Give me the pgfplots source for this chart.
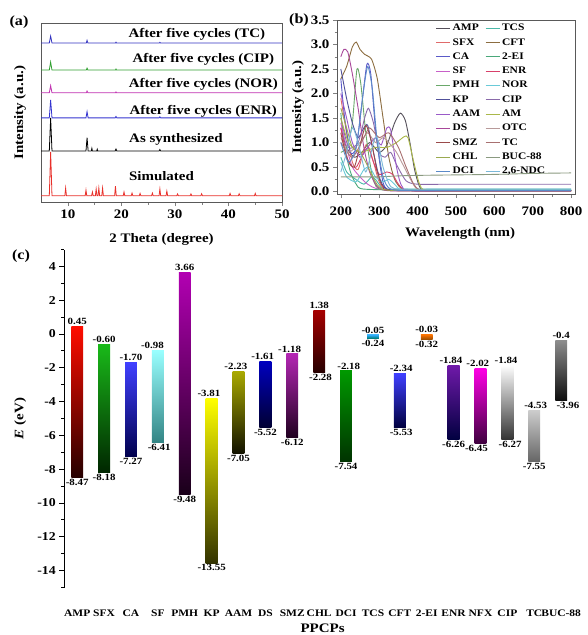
\documentclass[border=0pt]{standalone}
\usepackage{fontspec}
\setmainfont{Liberation Serif}[FakeStretch=1.15]
\usepackage{pgfplots}
\pgfplotsset{compat=1.18}
\newcommand\fs[1]{\fontsize{#1}{#1}\selectfont\bfseries}
% colours panel (b)
\definecolor{cAMP}{HTML}{55505A}\definecolor{cSFX}{HTML}{E06A6A}\definecolor{cCA}{HTML}{5A5AC8}
\definecolor{cSF}{HTML}{C860C8}\definecolor{cPMH}{HTML}{6AA86A}\definecolor{cKP}{HTML}{50509A}
\definecolor{cAAM}{HTML}{9A5AC8}\definecolor{cDS}{HTML}{A8489A}\definecolor{cSMZ}{HTML}{9A4A4A}
\definecolor{cCHL}{HTML}{9AAA50}\definecolor{cDCI}{HTML}{5A8AC8}\definecolor{cTCS}{HTML}{4AB8A8}
\definecolor{cCFT}{HTML}{8C6D40}\definecolor{cEI}{HTML}{4AA87A}\definecolor{cENR}{HTML}{D8406A}
\definecolor{cNOR}{HTML}{6ACAD8}\definecolor{cCIP}{HTML}{8A6AAA}\definecolor{cAM}{HTML}{AAB84A}
\definecolor{cOTC}{HTML}{B89A9A}\definecolor{cTC}{HTML}{A87070}\definecolor{cBUC}{HTML}{8A9A80}
\definecolor{cNDC}{HTML}{7AB8D8}
% colours panel (a)
\definecolor{xSim}{HTML}{E8302A}\definecolor{xENR}{HTML}{3434D0}\definecolor{xNOR}{HTML}{C030B0}
\definecolor{xCIP}{HTML}{30A030}\definecolor{xTC}{HTML}{3434C0}
\begin{document}
\begin{tikzpicture}
\useasboundingbox (0pt,0pt) rectangle (588pt,-635pt);
\pgfplotsset{
  every tick label/.append style={font=\fs{13}},
  /pgf/number format/assume math mode=true,
  every axis label/.append style={font=\fs{13}},
}
\node[font=\fs{14}] at (19pt,-22pt) {(a)};
\node[font=\fs{14}] at (299pt,-20pt) {(b)};
\node[font=\fs{14}] at (21pt,-256pt) {(c)};
% ---------------- (a) ----------------
\begin{axis}[at={(41pt,-23pt)}, anchor=north west, scale only axis,
  width=241pt, height=179pt, xmin=5, xmax=50, ymin=0, ymax=100,
  xtick={10,20,...,50}, minor x tick num=1, ytick=\empty,
  xtick pos=bottom, tick align=outside, major tick length=4pt, minor tick length=2.5pt,
  axis line style={black!65, line width=0.9pt},
  xlabel={2 Theta (degree)}, ylabel={Intensity (a.u.)},
  every axis x label/.style={at={(axis description cs:0.5,-0.21)}, anchor=center},
  every axis y label/.style={at={(axis description cs:-0.087,0.5)}, rotate=90, anchor=center},
  clip=false]
\addplot[xSim, line width=0.8pt] coordinates {(5,3.5)(6.55,3.5)(6.8,28)(7.05,3.5)(9.45,3.5)(9.6,7.8)(9.75,3.5)(13.25,3.5)(13.4,6.7)(13.55,3.5)(14.45,3.5)(14.6,5.6)(14.75,3.5)(15.15,3.5)(15.3,7.3)(15.45,3.5)(15.65,3.5)(15.8,7.8)(15.95,3.5)(16.35,3.5)(16.5,7.8)(16.65,3.5)(18.75,3.5)(18.9,8.9)(19.05,3.5)(20.35,3.5)(20.5,5.6)(20.65,3.5)(21.85,3.5)(22,5)(22.15,3.5)(23.35,3.5)(23.5,4.8)(23.65,3.5)(25.65,3.5)(25.8,5)(25.95,3.5)(27.05,3.5)(27.2,7.3)(27.35,3.5)(28.35,3.5)(28.5,6.1)(28.65,3.5)(30.35,3.5)(30.5,4.5)(30.65,3.5)(32.85,3.5)(33,4.5)(33.15,3.5)(34.85,3.5)(35,4.6)(35.15,3.5)(40.15,3.5)(40.3,4.8)(40.45,3.5)(41.85,3.5)(42,4.6)(42.15,3.5)(44.85,3.5)(45,4.8)(45.15,3.5)(50,3.5)};
\addplot[black, line width=0.8pt] coordinates {(5,28.5)(6.55,28.5)(6.8,47)(7.05,28.5)(13.4,28.5)(13.6,36)(13.8,28.5)(14.4,28.5)(14.5,30)(14.6,28.5)(15.4,28.5)(15.5,29.5)(15.6,28.5)(18.85,28.5)(19,29.6)(19.15,28.5)(27.05,28.5)(27.2,29.3)(27.35,28.5)(50,28.5)};
\addplot[xENR, line width=0.8pt] coordinates {(5,47)(6.55,47)(6.8,57)(7.05,47)(13.4,47)(13.6,50.5)(13.8,47)(18.85,47)(19,47.8)(19.15,47)(27.05,47)(27.2,47.6)(27.35,47)(50,47)};
\addplot[xNOR, line width=0.8pt] coordinates {(5,61)(6.55,61)(6.8,65)(7.05,61)(13.45,61)(13.6,62)(13.75,61)(18.9,61)(19,61.5)(19.1,61)(50,61)};
\addplot[xCIP, line width=0.8pt] coordinates {(5,73.7)(6.55,73.7)(6.8,78.2)(7.05,73.7)(13.45,73.7)(13.6,74.8)(13.75,73.7)(18.9,73.7)(19,74.3)(19.1,73.7)(50,73.7)};
\addplot[xTC, line width=0.8pt] coordinates {(5,88.8)(6.55,88.8)(6.8,92.7)(7.05,88.8)(13.45,88.8)(13.6,90.3)(13.75,88.8)(18.9,88.8)(19,89.3)(19.1,88.8)(27.1,88.8)(27.2,89.2)(27.3,88.8)(50,88.8)};
\node[font=\fs{13}] at (axis cs:34.1,93.5) {After five cycles (TC)};
\node[font=\fs{13}] at (axis cs:35.3,79.5) {After five cycles (CIP)};
\node[font=\fs{13}] at (axis cs:35.3,65.5) {After five cycles (NOR)};
\node[font=\fs{13}] at (axis cs:35.3,50.6) {After five cycles (ENR)};
\node[font=\fs{13}] at (axis cs:30.2,34.8) {As synthesized};
\node[font=\fs{13}] at (axis cs:27.5,14.3) {Simulated};
\end{axis}
% ---------------- (b) ----------------
\begin{axis}[at={(337pt,-20pt)}, anchor=north west, scale only axis,
  width=238pt, height=174pt, xmin=190, xmax=810, ymin=-0.05, ymax=3.5,
  xtick={200,300,...,800}, minor x tick num=1,
  ytick={0,0.5,...,3.5}, minor y tick num=1,
  xtick pos=bottom, ytick pos=left, tick align=outside, major tick length=4pt, minor tick length=2.5pt,
  yticklabel style={/pgf/number format/.cd, fixed, fixed zerofill, precision=1},
  xticklabel style={yshift=-5pt},
  axis line style={black!65, line width=0.9pt},
  xlabel={Wavelength (nm)}, ylabel={Intensity (a.u.)},
  every axis x label/.style={at={(axis description cs:0.517,-0.224)}, anchor=center},
  every axis y label/.style={at={(axis description cs:-0.164,0.5)}, rotate=90, anchor=center},
  legend columns=2,
  legend style={at={(0.41,0.995)}, anchor=north west, draw=none, fill=none,
    font=\fs{10}, row sep=2.2pt, inner sep=1pt,
    /tikz/every even column/.append style={column sep=3pt}},
  legend cell align=left,
  legend image code/.code={\draw[#1] (0pt,0pt) -- (14pt,0pt);},
  every axis plot/.append style={line width=0.9pt, smooth, tension=0.4}]
\addplot[cAMP] coordinates {(200,1.3)(215,0.9)(235,0.7)(255,0.8)(275,1.0)(300,0.8)(320,0.95)(340,1.4)(355,1.6)(368,1.45)(380,1.0)(392,0.45)(405,0.1)(420,0.02)(500,0.02)(800,0.02)};
\addlegendentry{AMP}
\addplot[cTCS] coordinates {(200,0.7)(215,0.4)(230,0.3)(260,0.15)(280,0.3)(290,0.25)(310,0.06)(340,0.05)(500,0.05)(800,0.05)};
\addlegendentry{TCS}
\addplot[cSFX] coordinates {(200,1.9)(215,1.2)(230,0.6)(245,0.45)(262,0.9)(270,0.95)(285,0.6)(300,0.2)(320,0.03)(400,0.02)(800,0.02)};
\addlegendentry{SFX}
\addplot[cCFT] coordinates {(200,2.3)(215,2.55)(230,2.95)(240,3.05)(250,2.9)(262,2.8)(280,2.7)(295,2.3)(310,1.5)(325,0.7)(340,0.25)(360,0.05)(400,0.02)(800,0.02)};
\addlegendentry{CFT}
\addplot[cCA] coordinates {(200,2.3)(210,1.5)(225,0.8)(240,0.9)(255,1.8)(268,2.6)(278,2.4)(290,1.3)(305,0.4)(320,0.05)(400,0.02)(800,0.02)};
\addlegendentry{CA}
\addplot[cEI] coordinates {(200,1.6)(210,0.9)(225,0.4)(240,0.15)(260,0.05)(400,0.03)(800,0.03)};
\addlegendentry{2-EI}
\addplot[cSF] coordinates {(200,1.4)(215,0.9)(230,0.5)(250,0.3)(270,0.15)(300,0.05)(400,0.02)(800,0.02)};
\addlegendentry{SF}
\addplot[cENR] coordinates {(200,1.3)(220,0.6)(240,0.5)(260,0.8)(272,0.9)(285,0.6)(300,0.35)(320,0.4)(335,0.35)(350,0.15)(370,0.03)(450,0.02)(800,0.02)};
\addlegendentry{ENR}
\addplot[cPMH] coordinates {(200,0.8)(215,0.9)(230,1.4)(242,2.5)(252,2.2)(265,1.2)(280,0.4)(300,0.05)(400,0.03)(800,0.03)};
\addlegendentry{PMH}
\addplot[cNOR] coordinates {(200,0.6)(215,0.3)(240,0.2)(260,0.45)(275,0.5)(290,0.3)(310,0.2)(325,0.25)(340,0.15)(360,0.03)(450,0.03)(800,0.03)};
\addlegendentry{NOR}
\addplot[cKP] coordinates {(200,2.5)(215,1.9)(230,1.4)(245,1.1)(260,1.3)(270,1.35)(285,0.8)(300,0.3)(320,0.05)(400,0.02)(800,0.02)};
\addlegendentry{KP}
\addplot[cCIP] coordinates {(200,1.5)(220,0.9)(245,1.0)(262,1.5)(272,1.7)(285,1.4)(300,0.8)(315,0.7)(330,0.8)(345,0.55)(370,0.22)(400,0.15)(500,0.15)(800,0.15)};
\addlegendentry{CIP}
\addplot[cAAM] coordinates {(200,2.0)(215,1.5)(230,1.0)(250,0.7)(270,0.9)(290,1.1)(305,0.95)(320,1.3)(330,1.25)(345,0.5)(360,0.1)(400,0.02)(800,0.02)};
\addlegendentry{AAM}
\addplot[cAM] coordinates {(200,1.5)(220,1.0)(250,0.8)(290,0.9)(320,0.9)(345,1.0)(365,1.12)(375,1.1)(390,0.6)(405,0.15)(420,0.03)(500,0.02)(800,0.02)};
\addlegendentry{AM}
\addplot[cDS] coordinates {(200,2.75)(208,2.9)(218,2.85)(230,2.4)(245,1.7)(260,0.9)(275,0.4)(295,0.1)(320,0.02)(400,0.01)(800,0.01)};
\addlegendentry{DS}
\addplot[cOTC] coordinates {(200,1.1)(220,0.8)(250,1.0)(270,1.2)(290,1.0)(310,1.1)(325,1.0)(345,0.8)(365,0.5)(385,0.2)(400,0.05)(450,0.02)(800,0.02)};
\addlegendentry{OTC}
\addplot[cSMZ] coordinates {(200,1.2)(215,0.7)(235,0.5)(255,1.1)(266,1.35)(280,1.0)(295,0.4)(310,0.1)(350,0.02)(800,0.02)};
\addlegendentry{SMZ}
\addplot[cTC] coordinates {(200,1.0)(230,0.7)(260,1.1)(275,1.3)(300,1.1)(325,1.2)(350,0.9)(370,0.5)(390,0.15)(410,0.03)(500,0.02)(800,0.02)};
\addlegendentry{TC}
\addplot[cCHL] coordinates {(200,1.7)(215,1.3)(230,0.9)(250,0.8)(265,0.6)(280,0.35)(300,0.1)(350,0.02)(800,0.02)};
\addlegendentry{CHL}
\addplot[cBUC] coordinates {(200,0.3)(250,0.3)(300,0.3)(350,0.32)(400,0.33)(500,0.34)(600,0.35)(700,0.37)(800,0.38)};
\addlegendentry{BUC-88}
\addplot[cDCI] coordinates {(200,1.0)(220,0.6)(240,0.9)(258,2.0)(270,2.55)(282,2.1)(295,1.0)(310,0.3)(330,0.05)(400,0.02)(800,0.02)};
\addlegendentry{DCI}
\addplot[cNDC] coordinates {(200,0.4)(215,0.8)(230,1.3)(245,1.0)(265,0.4)(285,1.0)(295,1.1)(310,0.5)(330,0.1)(360,0.05)(500,0.05)(800,0.05)};
\addlegendentry{2,6-NDC}
\end{axis}
% ---------------- (c) ----------------
\begin{axis}[at={(64.3pt,-249.5pt)}, anchor=north west, scale only axis,
  width=513pt, height=338pt, xmin=-0.48, xmax=18.6, ymin=-15, ymax=5,
  axis y line*=left, axis x line*=bottom,
  x axis line style={draw=none}, y axis line style={-, black, line width=1pt},
  xtick={0,...,18},
  xticklabels={AMP,SFX,CA,SF,PMH,KP,AAM,DS,SMZ,CHL,DCI,TCS,CFT,2-EI,ENR,NFX,CIP,TC,BUC-88},
  xtick style={draw=none},
  xticklabel style={font=\fs{10}, yshift=-14pt},
  ytick={-14,-12,...,4}, minor ytick={-15,-13,...,5},
  yticklabel style={font=\fs{12}},
  tick align=outside, major tick length=5pt, minor tick length=3pt,
  ytick style={line width=1pt, black},
  xlabel={PPCPs}, ylabel={\textit{E} (eV)},
  every axis x label/.style={at={(axis description cs:0.5035,-0.12)}, anchor=center},
  every axis y label/.style={at={(axis description cs:-0.086,0.5)}, rotate=90, anchor=center},
  clip=false]
\addplot[draw=none, top color=red!90!orange, bottom color=black!85!red] coordinates {(-0.22,-8.47)(0.22,-8.47)(0.22,0.45)(-0.22,0.45)} -- cycle;
\addplot[draw=none, top color=green!70!black!90, bottom color=black!85!green] coordinates {(0.78,-8.18)(1.22,-8.18)(1.22,-0.60)(0.78,-0.60)} -- cycle;
\addplot[draw=none, top color=blue!75, bottom color=blue!30!black] coordinates {(1.78,-7.27)(2.22,-7.27)(2.22,-1.70)(1.78,-1.70)} -- cycle;
\addplot[draw=none, top color=cyan!40, bottom color=cyan!40!black!80] coordinates {(2.78,-6.41)(3.22,-6.41)(3.22,-0.98)(2.78,-0.98)} -- cycle;
\addplot[draw=none, top color=violet!60!magenta, bottom color=violet!20!black] coordinates {(3.78,-9.48)(4.22,-9.48)(4.22,3.66)(3.78,3.66)} -- cycle;
\addplot[draw=none, top color=yellow, bottom color=yellow!20!black] coordinates {(4.78,-13.55)(5.22,-13.55)(5.22,-3.81)(4.78,-3.81)} -- cycle;
\addplot[draw=none, top color=olive!85!yellow!80, bottom color=olive!15!black] coordinates {(5.78,-7.05)(6.22,-7.05)(6.22,-2.23)(5.78,-2.23)} -- cycle;
\addplot[draw=none, top color=blue!75!black, bottom color=blue!20!black] coordinates {(6.78,-5.52)(7.22,-5.52)(7.22,-1.61)(6.78,-1.61)} -- cycle;
\addplot[draw=none, top color=violet!70!magenta!85, bottom color=violet!25!black] coordinates {(7.78,-6.12)(8.22,-6.12)(8.22,-1.18)(7.78,-1.18)} -- cycle;
\addplot[draw=none, top color=red!65!black, bottom color=red!15!black] coordinates {(8.78,-2.28)(9.22,-2.28)(9.22,1.38)(8.78,1.38)} -- cycle;
\addplot[draw=none, top color=green!60!black, bottom color=green!20!black] coordinates {(9.78,-7.54)(10.22,-7.54)(10.22,-2.18)(9.78,-2.18)} -- cycle;
\addplot[draw=none, top color=cyan!60!blue!80, bottom color=cyan!50!black] coordinates {(10.78,-0.24)(11.22,-0.24)(11.22,-0.05)(10.78,-0.05)} -- cycle;
\addplot[draw=none, top color=blue!75, bottom color=blue!25!black] coordinates {(11.78,-5.53)(12.22,-5.53)(12.22,-2.34)(11.78,-2.34)} -- cycle;
\addplot[draw=none, top color=orange!90!red, bottom color=orange!60!black] coordinates {(12.78,-0.32)(13.22,-0.32)(13.22,-0.03)(12.78,-0.03)} -- cycle;
\addplot[draw=none, top color=violet!75!blue!90, bottom color=blue!25!black] coordinates {(13.78,-6.26)(14.22,-6.26)(14.22,-1.84)(13.78,-1.84)} -- cycle;
\addplot[draw=none, top color=magenta!90!red, bottom color=magenta!25!black] coordinates {(14.78,-6.45)(15.22,-6.45)(15.22,-2.02)(14.78,-2.02)} -- cycle;
\addplot[draw=none, top color=white, bottom color=black!80] coordinates {(15.78,-6.27)(16.22,-6.27)(16.22,-1.84)(15.78,-1.84)} -- cycle;
\addplot[draw=none, top color=black!20, bottom color=black!60] coordinates {(16.78,-7.55)(17.22,-7.55)(17.22,-4.53)(16.78,-4.53)} -- cycle;
\addplot[draw=none, top color=black!45, bottom color=black!95] coordinates {(17.78,-3.96)(18.22,-3.96)(18.22,-0.4)(17.78,-0.4)} -- cycle;
% value labels
\begin{scope}[every node/.style={font=\fs{9.5}, inner sep=1.5pt}]
\node[above] at (axis cs:0,0.45) {0.45};
\node[below] at (axis cs:0,-8.47) {-8.47};
\node[above] at (axis cs:1,-0.60) {-0.60};
\node[below] at (axis cs:1,-8.18) {-8.18};
\node[above] at (axis cs:2,-1.70) {-1.70};
\node[below] at (axis cs:2,-7.27) {-7.27};
\node[above] at (axis cs:2.8,-0.98) {-0.98};
\node[below] at (axis cs:3.05,-6.41) {-6.41};
\node[above] at (axis cs:4,3.66) {3.66};
\node[below] at (axis cs:4,-9.48) {-9.48};
\node[above] at (axis cs:4.9,-3.81) {-3.81};
\node[below] at (axis cs:5,-13.55) {-13.55};
\node[above] at (axis cs:5.9,-2.23) {-2.23};
\node[below] at (axis cs:6,-7.05) {-7.05};
\node[above] at (axis cs:6.9,-1.61) {-1.61};
\node[below] at (axis cs:7,-5.52) {-5.52};
\node[above] at (axis cs:7.9,-1.18) {-1.18};
\node[below] at (axis cs:8,-6.12) {-6.12};
\node[above] at (axis cs:9,1.38) {1.38};
\node[below] at (axis cs:9.05,-2.28) {-2.28};
\node[above] at (axis cs:10.1,-2.18) {-2.18};
\node[below] at (axis cs:10,-7.54) {-7.54};
\node[above] at (axis cs:11,-0.05) {-0.05};
\node[below] at (axis cs:11,-0.24) {-0.24};
\node[above] at (axis cs:12.05,-2.34) {-2.34};
\node[below] at (axis cs:12.05,-5.53) {-5.53};
\node[above] at (axis cs:13,-0.03) {-0.03};
\node[below] at (axis cs:13,-0.32) {-0.32};
\node[above] at (axis cs:13.9,-1.84) {-1.84};
\node[below] at (axis cs:14,-6.26) {-6.26};
\node[above] at (axis cs:14.9,-2.02) {-2.02};
\node[below] at (axis cs:14.85,-6.45) {-6.45};
\node[above] at (axis cs:15.95,-1.84) {-1.84};
\node[below] at (axis cs:16.1,-6.27) {-6.27};
\node[above] at (axis cs:17.05,-4.53) {-4.53};
\node[below] at (axis cs:17,-7.55) {-7.55};
\node[above] at (axis cs:18,-0.4) {-0.4};
\node[below] at (axis cs:18.25,-3.96) {-3.96};
\end{scope}
\end{axis}
\end{tikzpicture}
\end{document}
